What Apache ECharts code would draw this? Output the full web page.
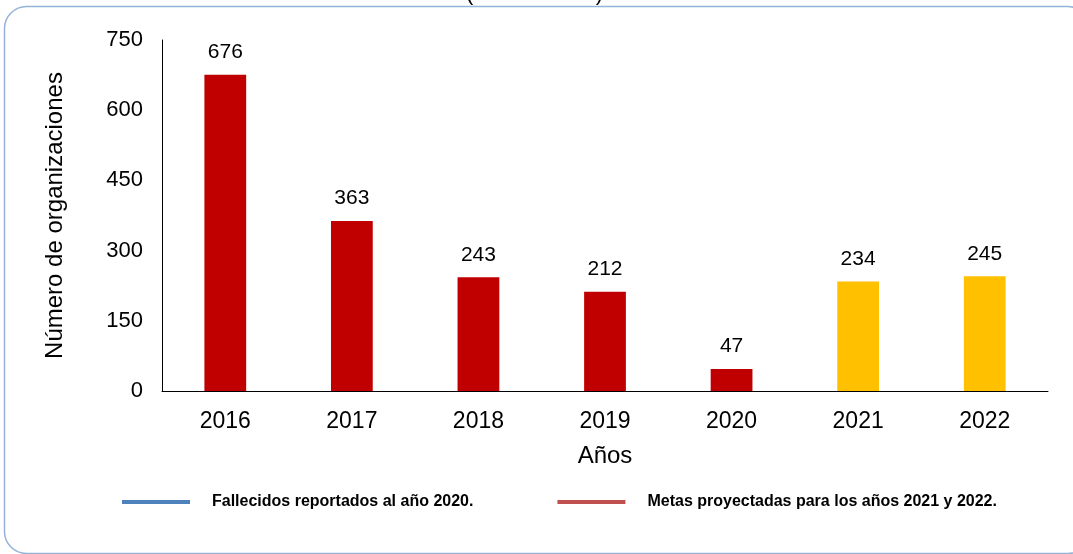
<!DOCTYPE html>
<html>
<head>
<meta charset="utf-8">
<script src="https://cdn.jsdelivr.net/npm/echarts@6/dist/echarts.min.js"></script>
<style>
  html, body { margin: 0; padding: 0; background: #fff; }
  #chart { width: 1073px; height: 554px; }
</style>
</head>
<body>
<div id="chart"></div>
<script>
// datos
const years = ['2016', '2017', '2018', '2019', '2020', '2021', '2022'];
const organizaciones = [676, 363, 243, 212, 47, 234, 245];
const firstProjectedYear = '2021';
const yTicks = [0, 150, 300, 450, 600, 750];
const legendNames = ['Fallecidos reportados al año 2020.', 'Metas proyectadas para los años 2021 y 2022.'];

const chart = echarts.init(document.getElementById('chart'));

// barras reales en rojo, metas proyectadas en amarillo
const barData = organizaciones.map((v, i) => ({
  value: v,
  itemStyle: { color: years[i] >= firstProjectedYear ? '#ffc000' : '#c00000' }
}));

chart.setOption({
  animation: false,
  textStyle: { fontFamily: 'Liberation Sans, Arial, sans-serif' },
  graphic: [
    {
      type: 'rect',
      shape: { x: 4.5, y: 6.5, width: 1085, height: 547, r: 22 },
      style: { fill: 'none', stroke: '#95b3d7', lineWidth: 1.5 },
      silent: true
    },
    {
      type: 'text',
      left: 466,
      top: -17,
      style: { text: '(2016 – 2022)', fontSize: 22, fill: '#000', fontFamily: 'Liberation Sans' },
      silent: true
    }
  ],
  legend: {
    bottom: 39,
    left: 117,
    itemGap: 84,
    itemWidth: 68,
    itemHeight: 4,
    icon: 'rect',
    textStyle: { fontSize: 16, fontWeight: 'bold', color: '#000', padding: [0, 0, 0, 17] },
    data: legendNames
  },
  grid: { left: 162, right: 25, top: 40, bottom: 163 },
  xAxis: {
    type: 'category',
    data: years,
    name: 'Años',
    nameLocation: 'middle',
    nameGap: 53,
    nameTextStyle: { fontSize: 24, color: '#000' },
    axisLine: { lineStyle: { color: '#000', width: 1 } },
    axisTick: { show: false },
    axisLabel: { fontSize: 23, color: '#000', margin: 19 }
  },
  yAxis: {
    type: 'value',
    min: yTicks[0],
    max: yTicks[yTicks.length - 1],
    interval: yTicks[1] - yTicks[0],
    name: 'Número de organizaciones',
    nameLocation: 'middle',
    nameGap: 95,
    nameTextStyle: { fontSize: 24, color: '#000' },
    axisLine: { show: true, lineStyle: { color: '#000', width: 1 } },
    axisTick: { show: false },
    splitLine: { show: false },
    axisLabel: { fontSize: 22, color: '#000', margin: 19 }
  },
  series: [
    {
      type: 'bar',
      data: barData,
      barWidth: '33%',
      label: { show: true, position: 'top', distance: 12, fontSize: 21, color: '#000' }
    },
    { name: legendNames[0], type: 'line', data: [], itemStyle: { color: '#4f81bd' }, lineStyle: { color: '#4f81bd' } },
    { name: legendNames[1], type: 'line', data: [], itemStyle: { color: '#c0504d' }, lineStyle: { color: '#c0504d' } }
  ]
});
</script>
</body>
</html>
